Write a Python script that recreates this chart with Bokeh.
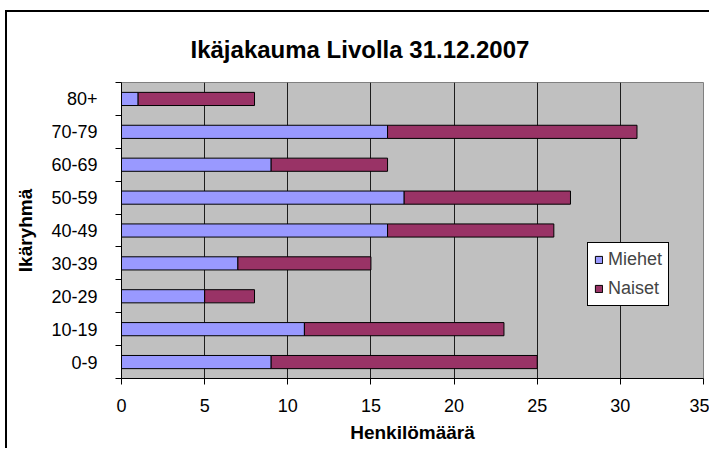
from bokeh.plotting import figure
from bokeh.embed import file_html
from bokeh.resources import INLINE
from bokeh.models import FixedTicker, Range1d, ColumnDataSource, Legend, LegendItem

categories = ["0-9", "10-19", "20-29", "30-39", "40-49", "50-59", "60-69", "70-79", "80+"]
miehet = [9, 11, 5, 7, 16, 17, 9, 16, 1]
naiset = [16, 12, 3, 8, 10, 10, 7, 15, 7]
x_ticks = [0, 5, 10, 15, 20, 25, 30, 35]

pos = [i + 0.5 for i in range(len(categories))]
total = [m + n for m, n in zip(miehet, naiset)]
src = ColumnDataSource(dict(y=pos, m=miehet, t=total, cat=categories))

FONT = "Liberation Sans"
TICK_FS = "18px"

p = figure(width=709, height=448, output_backend="svg", toolbar_location=None,
           x_range=Range1d(0, 35), y_range=Range1d(0, len(categories)),
           min_border_left=121, min_border_right=6, min_border_top=82, min_border_bottom=70)

# outer chart border (left and top edges visible, as in the reference)
p.styles = {"background-color": "white",
            "box-shadow": "inset 5px 10px 0 0 white, inset 7px 12px 0 0 black"}
p.border_fill_alpha = 0

p.background_fill_color = "#C0C0C0"
p.outline_line_color = "#808080"
p.outline_line_width = 1

r1 = p.hbar(y="y", left=0, right="m", height=0.4, source=src,
            fill_color="#9999FF", line_color="black", line_width=1)
r2 = p.hbar(y="y", left="m", right="t", height=0.4, source=src,
            fill_color="#993366", line_color="black", line_width=1)

# Title
p.title.text = "Ikäjakauma Livolla 31.12.2007"
p.title.align = "left"
p.title.offset = 69
p.title.text_font = FONT
p.title.text_font_size = "24px"
p.title.text_font_style = "bold"
p.title.text_color = "black"
p.title.standoff = 40

# x axis
p.xaxis.ticker = FixedTicker(ticks=x_ticks)
p.xaxis.axis_label = "Henkilömäärä"
p.xaxis.axis_label_text_font = FONT
p.xaxis.axis_label_text_font_size = "19px"
p.xaxis.axis_label_text_font_style = "bold"
p.xaxis.axis_label_text_color = "black"
p.xaxis.axis_label_standoff = 7
p.xaxis.major_label_text_font = FONT
p.xaxis.major_label_text_font_size = TICK_FS
p.xaxis.major_label_text_color = "black"
p.xaxis.major_label_standoff = 14
p.xaxis.major_tick_out = 6
p.xaxis.major_tick_in = 0
p.xaxis.minor_tick_line_color = None
p.xaxis.axis_line_color = "black"
p.xaxis.major_tick_line_color = "black"

# y axis: labels at centers, ticks at boundaries
p.yaxis.ticker = FixedTicker(ticks=pos, minor_ticks=list(range(len(categories) + 1)))
p.yaxis.major_label_overrides = {y: c for y, c in zip(pos, categories)}
p.yaxis.major_tick_out = 0
p.yaxis.major_tick_in = 0
p.yaxis.minor_tick_out = 6
p.yaxis.minor_tick_in = 0
p.yaxis.minor_tick_line_color = "black"
p.yaxis.axis_line_color = "black"
p.yaxis.axis_label = "Ikäryhmä"
p.yaxis.axis_label_text_font = FONT
p.yaxis.axis_label_text_font_size = "19px"
p.yaxis.axis_label_text_font_style = "bold"
p.yaxis.axis_label_text_color = "black"
p.yaxis.axis_label_standoff = 12
p.yaxis.major_label_text_font = FONT
p.yaxis.major_label_text_font_size = TICK_FS
p.yaxis.major_label_text_color = "black"
p.yaxis.major_label_standoff = 18

# grid
p.ygrid.grid_line_color = None
p.xgrid.ticker = FixedTicker(ticks=x_ticks[1:-1])
p.xgrid.grid_line_color = "black"
p.xgrid.grid_line_alpha = 0.85
p.xgrid.grid_line_width = 1

legend = Legend(items=[LegendItem(label="Miehet", renderers=[r1]),
                       LegendItem(label="Naiset", renderers=[r2])],
                location=(466, 72))
legend.background_fill_color = "white"
legend.background_fill_alpha = 1
legend.border_line_color = "black"
legend.border_line_width = 1
legend.border_line_alpha = 1
legend.label_text_font = FONT
legend.label_text_font_size = "18px"
legend.glyph_width = 9
legend.glyph_height = 9
legend.label_standoff = 5
legend.spacing = 8
legend.padding = 6
legend.margin = 0
legend.label_height = 20
p.add_layout(legend, "center")

open("out.html", "w").write(file_html(p, INLINE))
